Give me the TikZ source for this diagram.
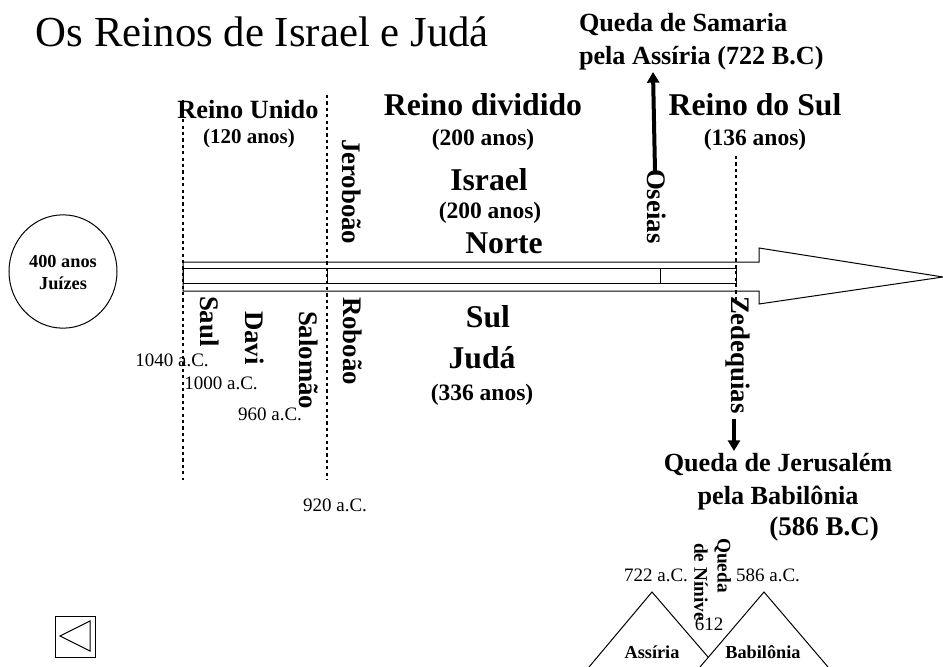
\documentclass[tikz,border=0pt]{standalone}
\usepackage{fontspec}
\setmainfont{Liberation Serif}
\usetikzlibrary{arrows.meta,shapes.geometric}
\newcommand{\fpx}[1]{\fontsize{\dimexpr#1pt*3/4\relax}{\dimexpr#1pt*9/10\relax}\selectfont}
\tikzset{
 x=0.75pt,y=-0.75pt,
 every node/.style={inner sep=0pt,outer sep=0pt,align=center},
 big/.style={font=\fpx{31.7}\bfseries},
 mid/.style={font=\fpx{26.3}\bfseries},
 fall/.style={font=\fpx{26.2}\bfseries},
 small/.style={font=\fpx{23.5}\bfseries},
 smaller/.style={font=\fpx{21}\bfseries},
 vert/.style={font=\fpx{26.8}\bfseries,rotate=-90},
 date/.style={font=\fpx{19}},
 tiny/.style={font=\fpx{18.3}\bfseries},
 dots/.style={line width=2.2pt,dash pattern=on 2.4pt off 2.4pt},
 outline/.style={line width=0.75pt,line join=miter},
 thin line/.style={line width=0.75pt},
 heavy/.style={line width=3pt,-{Stealth[length=8pt,width=9pt,inset=0pt]}},
}
\begin{document}
\begin{tikzpicture}
\useasboundingbox (0,0) rectangle (943,667);
\node[font=\fpx{42.8},anchor=west] (title) at (36,32) {Os Reinos de Israel e Judá};
\coordinate (d1t) at (183,100); \coordinate (d1b) at (183,480);
\coordinate (d2t) at (327,95); \coordinate (d2b) at (327,480);
\coordinate (d3t) at (736,156); \coordinate (d3b) at (736,300);
\draw[dots] (d1t) -- (d1b);
\draw[dots] (d2t) -- (d2b);
\draw[dots] (d3t) -- (d3b);
\draw[outline] (183,262) -- (759,262) -- (759,248) -- (943,277) -- (759,304) -- (759,291) -- (183,291) -- cycle;
\draw[outline] (183,268) rectangle (736,283);
\draw[outline] (327,268) -- (327,283);
\draw[outline] (660,268) -- (660,283);
\node[draw,thin line,ellipse,minimum width=81pt,minimum height=85pt] (circ) at (63,271.5) {};
\node[tiny] (juizes) at (63,273) {400 anos\\Juízes};
\node[mid] (ru) at (248,110) {Reino Unido};
\node[smaller] (ru2) at (249,138) {(120 anos)};
\node[big] (rd) at (483,105) {Reino dividido};
\node[small] (rd2) at (483,140) {(200 anos)};
\node[big] (rs) at (755,105) {Reino do Sul};
\node[small] (rs2) at (755,140) {(136 anos)};
\node[big] (isr) at (489,180) {Israel};
\node[small] (isr2) at (490,213) {(200 anos)};
\node[big] (norte) at (504,243) {Norte};
\node[big] (sul) at (488,317) {Sul};
\node[big] (juda) at (482,358) {Judá};
\node[small] (juda2) at (482,395) {(336 anos)};
\node[vert,anchor=west] (jer) at (352,139) {Jeroboão};
\node[vert,anchor=west] (ose) at (657,169) {Oseias};
\node[vert,anchor=west] (saul) at (210,296) {Saul};
\node[vert,anchor=west] (davi) at (255,311) {Davi};
\node[vert,anchor=west] (sal) at (309,311) {Salomão};
\node[vert,anchor=west] (rob) at (353,297) {Roboão};
\node[vert,anchor=west] (zed) at (738,296) {Zedequias};
\node[date] (d1040) at (172,360) {1040 a.C.};
\node[date] (d1000) at (221,383) {1000 a.C.};
\node[date] (d960) at (270,414) {960 a.C.};
\node[date] (d920) at (335,505) {920 a.C.};
\node[fall,align=left,anchor=west] (qs) at (579,42) {Queda de Samaria\\[1.3pt]pela Assíria (722 B.C)};
\coordinate (qsa) at (653,72); \coordinate (qsb) at (655,171);
\draw[heavy] (qsb) -- (qsa);
\node[fall] (qj) at (778,481.5) {Queda de Jerusalém\\[1.3pt]pela Babilônia};
\node[font=\fpx{27}\bfseries] (qj2) at (824,529) {(586 B.C)};
\coordinate (za) at (734,419); \coordinate (zb) at (734,451);
\draw[heavy] (za) -- (zb);
\coordinate (a1) at (652,592); \coordinate (a2) at (764,592);
\draw[thin line] (589,667) -- (a1) -- (708,657);
\draw[thin line] (700,667) -- (a2) -- (828,667);
\node[date] (d722) at (656,575) {722 a.C.};
\node[date] (d586) at (768,575) {586 a.C.};
\node[date] (d612) at (709,624) {612};
\node[tiny] (ass) at (652,652) {Assíria};
\node[tiny] (bab) at (763,652) {Babilônia};
\node[font=\fpx{19.3}\bfseries,rotate=-90,align=left,anchor=north west] (nin) at (731,538) {Queda\\\hspace*{3.75pt}de Nínive};
\draw[thin line] (55,616) rectangle (95,657);
\draw[thin line] (90,621) -- (60,636) -- (90,651) -- cycle;
\end{tikzpicture}
\end{document}
